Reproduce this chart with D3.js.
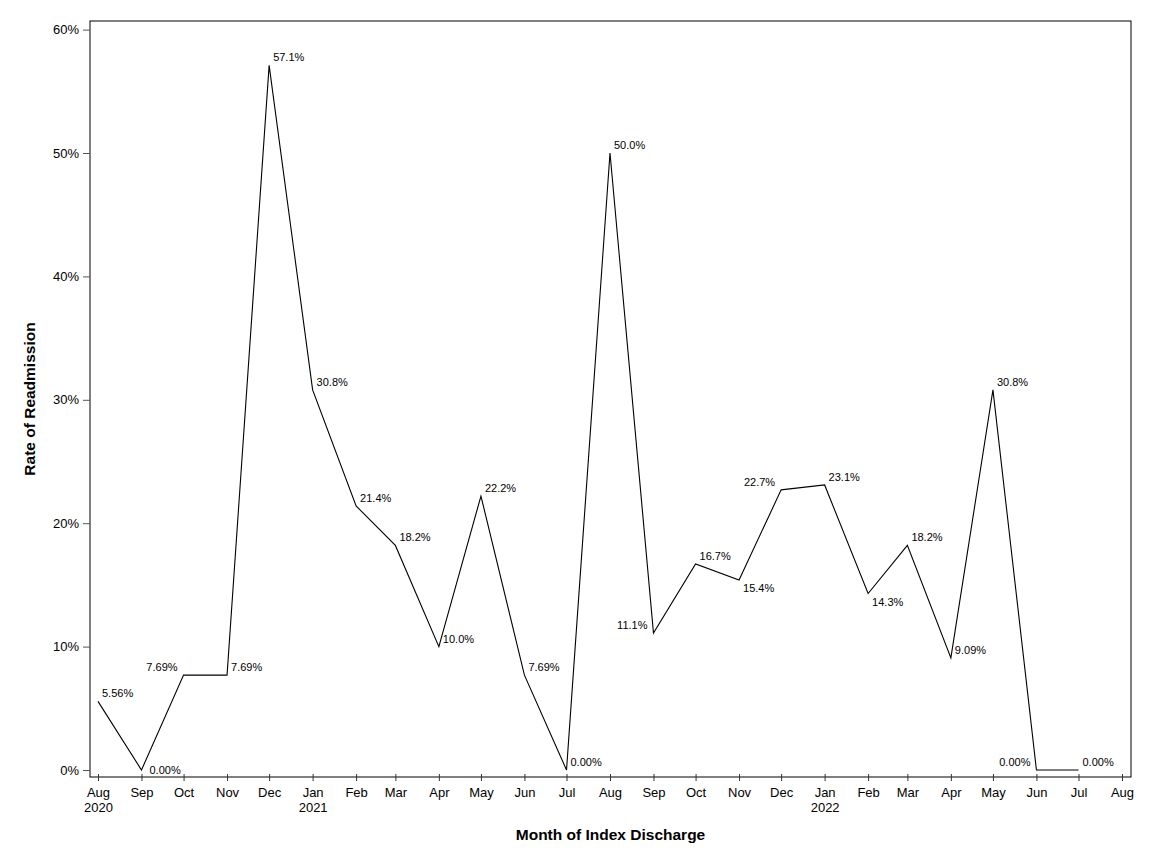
<!DOCTYPE html>
<html><head><meta charset="utf-8">
<script src="https://cdn.jsdelivr.net/npm/d3@7"></script>
<style>body{margin:0;background:#fff}svg{display:block}text{font-family:"Liberation Sans",Arial,sans-serif}</style>
</head><body><svg id="c" width="1152" height="864"></svg>
<script>
const months = ["2020-08","2020-09","2020-10","2020-11","2020-12","2021-01","2021-02","2021-03","2021-04","2021-05","2021-06","2021-07","2021-08","2021-09","2021-10","2021-11","2021-12","2022-01","2022-02","2022-03","2022-04","2022-05","2022-06","2022-07"];
const rates = [5.56,0,7.69,7.69,57.1,30.8,21.4,18.2,10.0,22.2,7.69,0,50.0,11.1,16.7,15.4,22.7,23.1,14.3,18.2,9.09,30.8,0,0];
const rateLabels = ["5.56%","0.00%","7.69%","7.69%","57.1%","30.8%","21.4%","18.2%","10.0%","22.2%","7.69%","0.00%","50.0%","11.1%","16.7%","15.4%","22.7%","23.1%","14.3%","18.2%","9.09%","30.8%","0.00%","0.00%"];
const yTicks = [0,10,20,30,40,50,60];
const tickMonths = ["2020-08","2020-09","2020-10","2020-11","2020-12","2021-01","2021-02","2021-03","2021-04","2021-05","2021-06","2021-07","2021-08","2021-09","2021-10","2021-11","2021-12","2022-01","2022-02","2022-03","2022-04","2022-05","2022-06","2022-07","2022-08"];
const xTitle = "Month of Index Discharge";
const yTitle = "Rate of Readmission";

const parse = d3.utcParse("%Y-%m");
const svg = d3.select("#c");
const L=90, R=1131, T=21, B=777;
const x = d3.scaleUtc().domain([parse("2020-08"), parse("2022-08")]).range([98,1122]);
const y = d3.scaleLinear().domain([0,60]).range([770,29.6]);

// frame
svg.append("rect").attr("x",L).attr("y",T).attr("width",R-L).attr("height",B-T)
  .attr("fill","none").attr("stroke","#000").attr("stroke-width",1);

// y axis
const yg = svg.append("g").attr("transform",`translate(${L},0)`)
  .call(d3.axisLeft(y).tickValues(yTicks).tickSize(7).tickPadding(4).tickFormat(d=>d+"%"));
yg.select(".domain").remove();
yg.selectAll("line").attr("stroke","#555");
yg.selectAll("text").attr("font-size",13).attr("fill","#000");

// x axis
const tickDates = tickMonths.map(parse);
const xg = svg.append("g").attr("transform",`translate(0,${B})`)
  .call(d3.axisBottom(x).tickValues(tickDates).tickSize(5).tickPadding(6).tickFormat(d3.utcFormat("%b")));
xg.select(".domain").remove();
xg.selectAll("line").attr("y1",-3).attr("y2",4).attr("stroke","#333");
xg.selectAll("text").attr("font-size",13).attr("fill","#000");
xg.selectAll(".tick").filter(d=>d.getUTCMonth()===0 || +d===+tickDates[0])
  .append("text").attr("y",26).attr("dy","0.71em").attr("font-size",13).attr("fill","#000")
  .attr("text-anchor","middle").text(d=>d.getUTCFullYear());

// line
const pts = months.map((m,i)=>({d:parse(m), v:rates[i], lab:rateLabels[i]}));
svg.append("path").datum(pts)
  .attr("d", d3.line().x(d=>x(d.d)).y(d=>y(d.v)))
  .attr("fill","none").attr("stroke","#000").attr("stroke-width",1.1);

// label placements by index (ra = right-above default)
const place = {1:"rm",2:"la",13:"la",16:"la",22:"la",15:"rb",18:"rb"};
svg.append("g").selectAll("text").data(pts).join("text")
  .attr("font-size",11).attr("fill","#000")
  .each(function(d,i){
    const p = place[i]||"ra";
    const s = d3.select(this).text(d.lab);
    let dx=4, dy=-4, anchor="start";
    if(p==="rm"){dx=8;dy=4;}
    if(p==="la"){dx=-6;dy=-4;anchor="end";}
    if(p==="rb"){dx=4;dy=12;}
    s.attr("x",x(d.d)+dx).attr("y",y(d.v)+dy).attr("text-anchor",anchor);
  });

// titles
svg.append("text").attr("x",(L+R)/2).attr("y",840).attr("text-anchor","middle")
  .attr("font-size",15.5).attr("font-weight","bold").text(xTitle);
svg.append("text").attr("transform",`translate(35,${(T+B)/2}) rotate(-90)`).attr("text-anchor","middle")
  .attr("font-size",15.5).attr("font-weight","bold").text(yTitle);
</script></body></html>
